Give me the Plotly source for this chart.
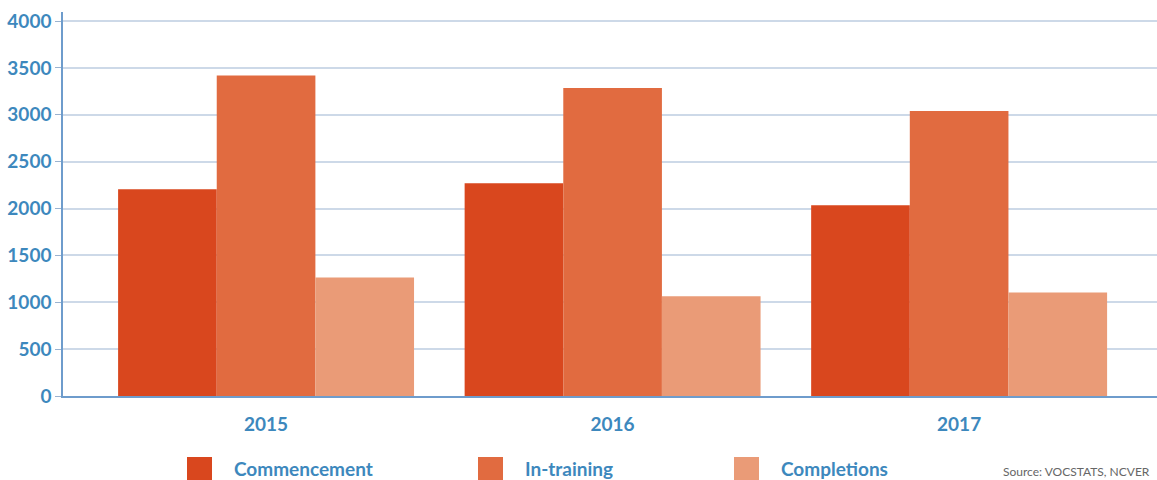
import plotly.graph_objects as go

years = ["2015", "2016", "2017"]
series_names = ["Commencement", "In-training", "Completions"]
commencement = [2205, 2270, 2035]
in_training = [3420, 3285, 3040]
completions = [1265, 1065, 1105]
y_ticks = [0, 500, 1000, 1500, 2000, 2500, 3000, 3500, 4000]
source_text = "Source: VOCSTATS, NCVER"

colors = ["#d9471e", "#e16b40", "#ea9b77"]
text_color = "#3d88bd"
font_family = "Lato, 'Open Sans', sans-serif"

fig = go.Figure()
for name, vals, c in zip(series_names, [commencement, in_training, completions], colors):
    fig.add_trace(go.Bar(x=years, y=vals, name=name, marker=dict(color=c, line=dict(width=0)),
                         showlegend=False))

W, H = 1157, 480
ml, mr, mt, mb = 63, 0, 12, 84
PW, PH = W - ml - mr, H - mt - mb


def px(xpage):
    return (xpage - ml) / PW


def py(ypage):
    return (H - mb - ypage) / PH


fig.update_layout(
    width=W, height=H,
    margin=dict(l=ml, r=mr, t=mt, b=mb, autoexpand=False),
    paper_bgcolor="white", plot_bgcolor="white",
    barmode="group", bargap=0.146, bargroupgap=0,
    font=dict(family=font_family, color=text_color),
    xaxis=dict(
        type="category", range=[-0.586, 2.571],
        showline=True, linecolor="#6e9ccc", linewidth=2,
        showgrid=False, ticks="",
        tickfont=dict(size=19, family=font_family, color=text_color, weight="bold"),
        ticklabelstandoff=10,
    ),
    yaxis=dict(
        range=[0, 4096], tickvals=y_ticks,
        showline=True, linecolor="#6e9ccc", linewidth=1.5,
        showgrid=True, gridcolor="#cdd9e8", gridwidth=2,
        ticks="outside", ticklen=6, tickcolor="#9ab3d0", tickwidth=1,
        tickfont=dict(size=19, family=font_family, color=text_color, weight="bold"),
        zeroline=False,
    ),
)

# Custom legend (large square swatches)
legend_x = [187, 478, 734]
for name, c, x0 in zip(series_names, colors, legend_x):
    fig.add_shape(type="rect", xref="paper", yref="paper",
                  x0=px(x0), x1=px(x0 + 25),
                  y0=py(490), y1=py(457),
                  fillcolor=c, line=dict(width=0), layer="above")
    fig.add_annotation(xref="paper", yref="paper",
                       x=px(x0 + 45), y=py(468),
                       xanchor="left", yanchor="middle", showarrow=False,
                       text=name, font=dict(size=19, family=font_family, color=text_color, weight="bold"))

fig.add_annotation(xref="paper", yref="paper",
                   x=px(1001), y=py(471),
                   xanchor="left", yanchor="middle", showarrow=False,
                   text=source_text, font=dict(size=12, family=font_family, color="#666666"))

fig.write_html(
    "out.html",
    config={"displayModeBar": False},
    post_script="document.body.style.margin='0';document.body.style.overflow='hidden';",
)
